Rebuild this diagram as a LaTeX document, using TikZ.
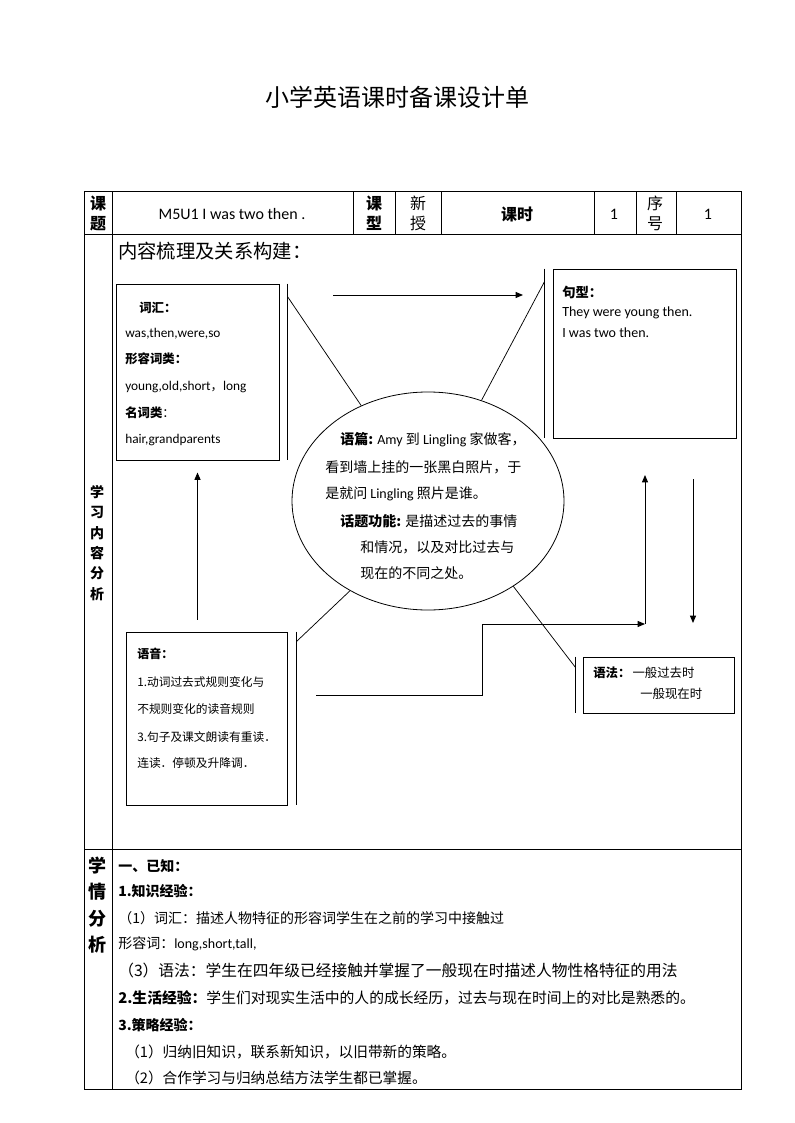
\documentclass[tikz,border=0pt]{standalone}
\usepackage{fontspec}
\setmainfont{Noto Sans CJK SC}
\newfontfamily\latfont{Carlito}
\newcommand\la[1]{{\latfont #1}}
\newcommand\fs[1]{\fontsize{#1}{#1}\selectfont}
\usetikzlibrary{arrows.meta,positioning,shapes.geometric}

\begin{document}
\begin{tikzpicture}[x=0.75pt, y=-0.75pt,
  grid/.style={line width=0.75pt},
  box/.style={draw, line width=0.7pt, inner sep=0pt},
  txt/.style={anchor=west, inner sep=0pt},
  ln/.style={line width=0.55pt},
  arr/.style={line width=0.7pt, -{Triangle[length=5.5pt,width=4.5pt]}}
]
\useasboundingbox (0,0) rectangle (794,1123);

% title
\node[font=\fs{18}] (title) at (397,97) {小学英语课时备课设计单};

% table
\draw[grid] (84,192) rectangle (741,1089);
\draw[grid] (84,235) -- (741,235);
\draw[grid] (84,849) -- (741,849);
\draw[grid] (112,192) -- (112,1089);
\foreach \x in {353,395,441,594,636,676} \draw[grid] (\x,192) -- (\x,235);

% header row
\node[font=\fontsize{12}{15}\selectfont\bfseries, align=center] (ketitle) at (98,213) {课\\题};
\node[font=\latfont\fs{12}] (topic) at (232,214) {M5U1 I was two then .};
\node[font=\fontsize{12}{15}\selectfont\bfseries, align=center] (ketype) at (374,213) {课\\型};
\node[font=\fontsize{12}{15}\selectfont, align=center] (newtype) at (418,213) {新\\授};
\node[font=\fs{12}\bfseries] (kshi) at (517,214) {课时};
\node[font=\latfont\fs{12}] (kshinum) at (614,214) {1};
\node[font=\fontsize{12}{15}\selectfont, align=center] (xuhao) at (655,213) {序\\号};
\node[font=\latfont\fs{12}] (xuhaonum) at (708,214) {1};

% left column labels
\node[font=\fontsize{10.5}{15.3}\selectfont\bfseries, align=center] (rowtwo) at (97,543) {学\\习\\内\\容\\分\\析};
\node[font=\fontsize{13.5}{19.9}\selectfont\bfseries, align=center] (rowthree) at (97,905) {学\\情\\分\\析};

% content map
\node[txt, font=\fs{14.5}] (head) at (118,251) {内容梳理及关系构建：};

\node[box, minimum width=122.25pt, minimum height=132pt] (vocab) at (197.5,372) {};
\node[txt, font=\fs{9.3}] (v1) at (139,308) {\textbf{词汇：}};
\node[txt, font=\fs{10}] (v2) at (125,334) {\la{was,then,were,so}};
\node[txt, font=\fs{9.3}] (v3) at (125,359) {\textbf{形容词类：}};
\node[txt, font=\fs{10}] (v4) at (125,387) {\la{young,old,short}{\fs{9.3}，}\la{long}};
\node[txt, font=\fs{9.3}] (v5) at (125,413) {\textbf{名词类}：};
\node[txt, font=\fs{10}] (v6) at (125,440) {\la{hair,grandparents}};

\node[box, minimum width=137.25pt, minimum height=126.75pt] (sent) at (644.5,353.5) {};
\node[txt, font=\fs{10}] (s1) at (562,292) {\textbf{句型：}};
\node[txt, font=\fs{10.5}] (s2) at (562,313) {\la{They were young then.}};
\node[txt, font=\fs{10.5}] (s3) at (562,333) {\la{I was two then.}};

\node[draw, ellipse, line width=0.6pt, minimum width=204pt, minimum height=163.5pt, inner sep=0pt] (core) at (428,501) {};
\node[txt, font=\fs{10.5}] (c1) at (340,440) {\textbf{语篇:} \la{Amy} 到 \la{Lingling} 家做客，};
\node[txt, font=\fs{10.5}] (c2) at (325,467) {看到墙上挂的一张黑白照片，于};
\node[txt, font=\fs{10.5}] (c3) at (325,494) {是就问 \la{Lingling} 照片是谁。};
\node[txt, font=\fs{10.5}] (c4) at (340,521) {\textbf{话题功能:} 是描述过去的事情};
\node[txt, font=\fs{10.5}] (c5) at (360,547) {和情况，以及对比过去与};
\node[txt, font=\fs{10.5}] (c6) at (360,573) {现在的不同之处。};

\node[box, minimum width=120.75pt, minimum height=129.75pt] (speech) at (206.5,718.5) {};
\node[txt, font=\fs{9}] (p0) at (137,654) {\textbf{语音：}};
\node[txt, font=\fs{8.8}] (p1) at (137,682) {1.动词过去式规则变化与};
\node[txt, font=\fs{8.8}] (p2) at (137,709) {不规则变化的读音规则};
\node[txt, font=\fs{8.8}] (p3) at (137,737) {3.句子及课文朗读有重读．};
\node[txt, font=\fs{8.8}] (p4) at (137,763) {连读．停顿及升降调．};

\node[box, minimum width=113.25pt, minimum height=42pt] (gram) at (658.5,685) {};
\node[txt, font=\fs{9.3}] (g1) at (593,673) {\textbf{语法：}\,一般过去时};
\node[txt, font=\fs{9.3}] (g2) at (640,694) {一般现在时};

% side bars and spokes
\draw[ln] ([xshift=6pt]vocab.north east) -- ([xshift=6pt]vocab.south east);
\draw[ln] ([xshift=6pt,yshift=-9.75pt]vocab.north east) -- (core.125);
\draw[ln] ([xshift=-6pt]sent.north west) -- ([xshift=-6pt]sent.south west);
\draw[ln] ([xshift=-6pt,yshift=-9.75pt]sent.north west) -- (core.62);
\draw[ln] ([xshift=6.75pt]speech.north east) -- ([xshift=6.75pt]speech.south east);
\draw[ln] (core.229) -- ([xshift=6.75pt,yshift=-7.5pt]speech.north east);
\draw[ln] ([xshift=-5.25pt]gram.north west) -- ([xshift=-5.25pt]gram.south west);
\draw[ln] (core.315) -- ([xshift=-5.25pt,yshift=-8.25pt]gram.north west);

% arrows
\coordinate (topl) at (333,295);
\coordinate (topr) at (523,295);
\draw[arr] (topl) -- (topr);
\draw[arr] ([yshift=9pt]vocab.south |- speech.north) -- ([yshift=-9pt]vocab.south);
\coordinate (stepin) at (316,695);
\coordinate (turn) at (645,624);
\coordinate (upend) at (645,475);
\draw[arr] (stepin) -- (482,695) -- (482,624) -- (turn);
\draw[arr] (turn) -- (upend);
\coordinate (dntop) at (693,479);
\coordinate (dnend) at (693,623);
\draw[arr] (dntop) -- (dnend);

% learner analysis
\node[txt, font=\fs{10.5}\bfseries] (k0) at (118,866) {一、已知：};
\node[txt, font=\fs{10.5}\bfseries] (k1) at (118,891) {1.知识经验：};
\node[txt, font=\fs{10.5}] (k2) at (118,918) {（1）词汇：描述人物特征的形容词学生在之前的学习中接触过};
\node[txt, font=\fs{10.5}] (k3) at (118,944) {形容词：\la{long,short,tall,}};
\node[txt, font=\fs{11.8}] (k4) at (118,971) {（3）语法：学生在四年级已经接触并掌握了一般现在时描述人物性格特征的用法};
\node[txt, font=\fs{11.1}] (k5) at (118,998) {\textbf{2.生活经验：}学生们对现实生活中的人的成长经历，过去与现在时间上的对比是熟悉的。};
\node[txt, font=\fs{10.5}\bfseries] (k6) at (118,1025) {3.策略经验：};
\node[txt, font=\fs{11}] (k7) at (125,1052) {（1）归纳旧知识，联系新知识，以旧带新的策略。};
\node[txt, font=\fs{11}] (k8) at (125,1078) {（2）合作学习与归纳总结方法学生都已掌握。};
\end{tikzpicture}
\end{document}
